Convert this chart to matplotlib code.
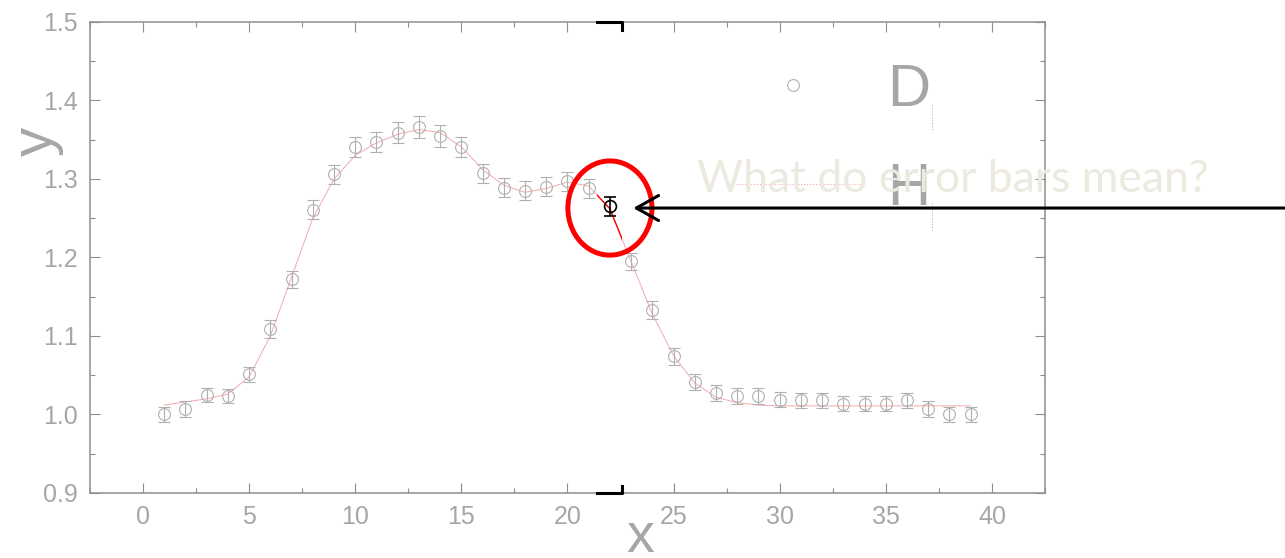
"""Titration-style curve with one point picked out: what does its error bar mean?"""
import matplotlib
matplotlib.use("Agg")
import matplotlib.pyplot as plt
import numpy as np
from matplotlib.patches import Ellipse, Rectangle
from matplotlib.ticker import MultipleLocator

# measured points
x = np.arange(1, 40)
y = [1.000, 1.007, 1.025, 1.024, 1.051, 1.109, 1.172, 1.261, 1.306, 1.341,
     1.347, 1.359, 1.366, 1.355, 1.341, 1.307, 1.289, 1.285, 1.290, 1.297,
     1.288, 1.265, 1.195, 1.133, 1.074, 1.041, 1.027, 1.024, 1.024, 1.019,
     1.018, 1.018, 1.014, 1.014, 1.014, 1.018, 1.007, 1.000, 1.000]
yerr = [0.010, 0.010, 0.009, 0.009, 0.010, 0.011, 0.011, 0.012, 0.012, 0.0125,
        0.013, 0.013, 0.014, 0.014, 0.013, 0.012, 0.012, 0.012, 0.012, 0.012,
        0.012, 0.012, 0.011, 0.011, 0.011, 0.010, 0.010, 0.010, 0.010, 0.010,
        0.010, 0.010, 0.010, 0.010, 0.010, 0.010, 0.010, 0.010, 0.010]

# fitted curve, sampled at the same x
fit = [1.012, 1.016, 1.020, 1.026, 1.048, 1.100, 1.175, 1.250, 1.300, 1.330,
       1.346, 1.357, 1.363, 1.359, 1.341, 1.312, 1.292, 1.283, 1.288, 1.296,
       1.291, 1.262, 1.195, 1.128, 1.075, 1.040, 1.022, 1.015, 1.012, 1.011,
       1.011, 1.011, 1.011, 1.011, 1.011, 1.011, 1.011, 1.011, 1.011]

HILITE = 22                # the point we ask about
COLUMN = (21.37, 22.55)    # x-range drawn at full contrast

x_ticks = np.arange(0, 41, 5)
y_ticks = np.arange(0.9, 1.51, 0.1)

FADE = "#b0b0b0"
FRAME = "#8e8e8e"
LABEL = "#a6a6a6"
PINK = "#f4aaaa"

plt.rcParams["font.family"] = ["Liberation Sans", "DejaVu Sans"]

fig = plt.figure(figsize=(12.85, 5.58), dpi=100)
ax = fig.add_axes([0.070, 0.1165, 0.7432, 0.8441])

y = np.asarray(y)
yerr = np.asarray(yerr)
sel = x == HILITE

# faded background plot
ax.plot(x, fit, color=PINK, lw=0.7, zorder=2)
ax.errorbar(x[~sel], y[~sel], yerr=yerr[~sel], fmt="o", mfc="none", mec=FADE,
            ms=8.5, mew=0.8, ecolor=FADE, elinewidth=0.8, capsize=4,
            capthick=0.8, zorder=3)

# full-contrast strip around the chosen point
strip = Rectangle((COLUMN[0], 0.8), COLUMN[1] - COLUMN[0], 0.8,
                  transform=ax.transData)
bright, = ax.plot(x, fit, color="red", lw=1.0, zorder=4)
bright.set_clip_path(strip)
ax.errorbar(x[sel], y[sel], yerr=yerr[sel], fmt="o", mfc="none", mec="black",
            ms=8.5, mew=1.2, ecolor="black", elinewidth=1.2, capsize=4.5,
            capthick=1.2, zorder=5)
xt = ax.get_xaxis_transform()
ax.plot([COLUMN[0], COLUMN[1], COLUMN[1]], [1, 1, 0.983], color="black",
        lw=2.2, transform=xt, clip_on=False, zorder=6)
ax.plot([COLUMN[0], COLUMN[1], COLUMN[1]], [0, 0, 0.0155], color="black",
        lw=2.2, transform=xt, clip_on=False, zorder=6)

ax.add_patch(Ellipse((HILITE, y[sel][0] - 0.002), 3.96, 0.12, fill=False,
                     edgecolor="red", lw=3.6, zorder=7, clip_on=False))
ax.annotate("", xy=(23.1, y[sel][0] - 0.002), xycoords="data",
            xytext=(1.0, y[sel][0] - 0.002), textcoords=("figure fraction", "data"),
            arrowprops=dict(arrowstyle="->,head_length=0.8,head_width=0.45",
                            color="black", lw=2.2, shrinkA=0, shrinkB=0,
                            mutation_scale=20),
            annotation_clip=False, zorder=8)

# what is left of the old legend
ax.plot([0.7361], [0.8662], "o", mfc="none", mec=FADE, ms=8.5, mew=0.8,
        transform=ax.transAxes, clip_on=False)
ax.plot([0.670, 0.8115], [0.656, 0.656], color=PINK, lw=0.8, ls=":",
        transform=ax.transAxes)
ax.text(0.8346, 0.8217, "D", color=LABEL, fontsize=43, va="baseline",
        transform=ax.transAxes)
ax.text(0.8346, 0.6115, "H", color=LABEL, fontsize=43, va="baseline",
        transform=ax.transAxes)
for y0, y1 in [(0.8238, 0.7686), (0.6157, 0.5584)]:
    ax.plot([0.8817, 0.8817], [y0, y1], color=FADE, lw=0.8, ls=":",
            transform=ax.transAxes)

ax.set_xlim(-2.5, 42.5)
ax.set_ylim(0.9, 1.5)
ax.set_xticks(x_ticks)
ax.set_yticks(y_ticks)
ax.set_yticklabels([f"{v:.1f}" for v in y_ticks])
ax.xaxis.set_minor_locator(MultipleLocator(2.5))
ax.yaxis.set_minor_locator(MultipleLocator(0.05))
ax.tick_params(which="both", direction="in", top=True, right=True,
               color=FRAME, width=0.8, labelcolor=LABEL, labelsize=18, pad=8.6)
ax.tick_params(which="major", length=7)
ax.tick_params(which="minor", length=3.5)
for sp in ax.spines.values():
    sp.set_color(FRAME)
    sp.set_linestyle((0, (1, 1)))
    sp.set_linewidth(1.1)

ax.set_xlabel("x", fontsize=40, color=LABEL)
ax.set_ylabel("y", fontsize=42, color=LABEL)
ax.xaxis.set_label_coords(0.576, -0.1255)
ax.yaxis.set_label_coords(-0.0555, 0.747)
ax.xaxis.label.set_va("baseline")
ax.yaxis.label.set_va("center")

fig.text(697 / 1285, 1 - 192 / 558, "What do error bars mean?", color="#ECE9DF",
         fontsize=32, family=["Lato", "DejaVu Sans"], va="baseline", zorder=9)

fig.savefig("out.png", dpi=100)
